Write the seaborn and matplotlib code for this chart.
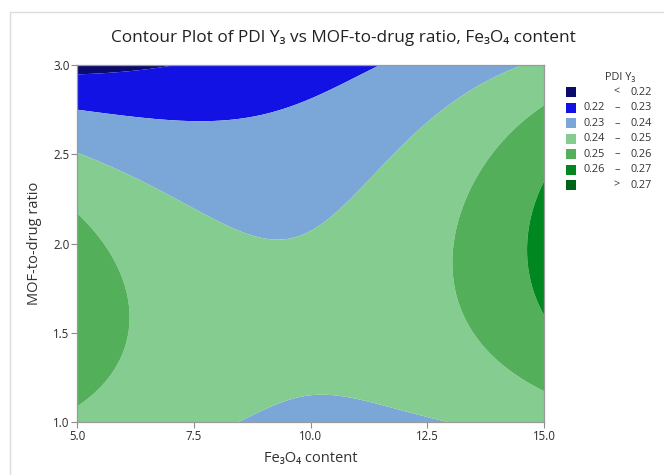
import numpy as np
import matplotlib
matplotlib.use("Agg")
import matplotlib.pyplot as plt
from matplotlib.patches import Rectangle
import seaborn as sns

# ---- data: points on each contour line ----
fe3o4_pts = [5.0, 7.0,
             5.0, 7.0, 7.56, 9.13, 9.63, 10.0, 10.35, 11.06, 11.45,
             5.0, 5.85, 7.63, 8.35, 9.06, 9.49, 10.13, 10.85, 11.42, 12.35, 14.45,
             8.42, 9.2, 9.56, 10.3, 11.49, 12.92,
             5.0, 5.71, 6.13, 5.78, 5.0,
             15.0, 14.4, 13.6, 13.02, 13.7, 15.0,
             15.0, 14.59, 15.0]
ratio_pts = [2.947, 3.0,
             2.748, 2.696, 2.686, 2.738, 2.766, 2.804, 2.84, 2.953, 3.0,
             2.505, 2.412, 2.188, 2.104, 2.042, 2.038, 2.094, 2.244, 2.412, 2.636, 3.0,
             1.0, 1.086, 1.133, 1.161, 1.086, 1.0,
             2.169, 1.945, 1.589, 1.291, 1.086,
             2.785, 2.58, 2.356, 1.945, 1.459, 1.179,
             2.39, 1.99, 1.571]
pdi_pts = [0.22] * 2 + [0.23] * 9 + [0.24] * 11 + [0.24] * 6 + [0.25] * 5 + [0.25] * 6 + [0.26] * 3

levels = [0.22, 0.23, 0.24, 0.25, 0.26, 0.27]
legend_labels = [("", "<", "0.22"), ("0.22", "\u2013", "0.23"), ("0.23", "\u2013", "0.24"),
                 ("0.24", "\u2013", "0.25"), ("0.25", "\u2013", "0.26"), ("0.26", "\u2013", "0.27"),
                 ("", ">", "0.27")]
colors = ["#0b0b6c", "#1212e4", "#7ba6d8", "#84cc90", "#54af5b", "#00871f", "#006418"]
x_ticks = [5.0, 7.5, 10.0, 12.5, 15.0]
y_ticks = [1.0, 1.5, 2.0, 2.5, 3.0]

# ---- response surface fitted to the readings (biquadratic in coded units) ----
def basis(x, y):
    u = (np.asarray(x) - 10.0) / 5.0
    v = (np.asarray(y) - 2.0)
    return np.stack([u**i * v**j for i in range(3) for j in range(3)], axis=-1)

coef, *_ = np.linalg.lstsq(basis(fe3o4_pts, ratio_pts), np.array(pdi_pts), rcond=None)
gx = np.linspace(5, 15, 400)
gy = np.linspace(1, 3, 300)
GX, GY = np.meshgrid(gx, gy)
GZ = basis(GX, GY) @ coef

# ---- drawing ----
sns.set_theme(style="white")
fam = ["Open Sans", "DejaVu Sans"]
plt.rcParams["font.family"] = fam

fig = plt.figure(figsize=(6.64, 4.75), dpi=100)
fig.patches.append(Rectangle((10 / 664, -0.2), 1.2, 1.2 - 12 / 475, transform=fig.transFigure,
                             fill=False, edgecolor="#dcdcdc", linewidth=1.0))
ax = fig.add_axes([77 / 664, 1 - 422 / 475, (544 - 77) / 664, (422 - 65) / 475])
bounds = [-1.0] + levels + [2.0]
ax.contourf(GX, GY, GZ, levels=bounds, colors=colors, antialiased=True)

ax.set_xlim(5, 15)
ax.set_ylim(1, 3)
ax.set_xticks(x_ticks)
ax.set_yticks(y_ticks)
ax.set_xticklabels([f"{t:.1f}" for t in x_ticks])
ax.set_yticklabels([f"{t:.1f}" for t in y_ticks])
ax.tick_params(axis="both", which="major", length=4, width=0.8, color="#8c8c8c",
               labelsize=8.3, labelcolor="#2a2a2a", direction="out", pad=1.5)
ax.tick_params(bottom=True, left=True)
for sp in ax.spines.values():
    sp.set_color("#9a9a9a")
    sp.set_linewidth(0.9)
ax.set_xlabel("Fe\u2083O\u2084 content", fontsize=10.5, color="#333333", labelpad=6)
ax.set_ylabel("MOF-to-drug ratio", fontsize=10.5, color="#333333", labelpad=8)

fig.text(343 / 664, 1 - 38 / 475, "Contour Plot of PDI Y\u2083 vs MOF-to-drug ratio, Fe\u2083O\u2084 content",
         ha="center", va="center", fontsize=12.4, color="#222222")

# legend (drawn manually, Minitab style)
fig.text(620 / 664, 1 - 78 / 475, "PDI Y\u2083", ha="center", va="center", fontsize=7.8, color="#333333")
row0, step = 92.3, 15.45
for i, (c, (lo, mid, hi)) in enumerate(zip(colors, legend_labels)):
    yc = row0 + i * step
    fig.patches.append(Rectangle((566 / 664, 1 - (yc + 5) / 475), 10 / 664, 10 / 475,
                                 transform=fig.transFigure, facecolor=c, edgecolor="none"))
    yy = 1 - yc / 475
    if lo:
        fig.text(605 / 664, yy, lo, ha="right", va="center", fontsize=7.8, color="#333333")
    fig.text(617 / 664, yy, mid, ha="center", va="center", fontsize=7.8, color="#333333")
    fig.text(652 / 664, yy, hi, ha="right", va="center", fontsize=7.8, color="#333333")

fig.savefig("out.png", dpi=100)
